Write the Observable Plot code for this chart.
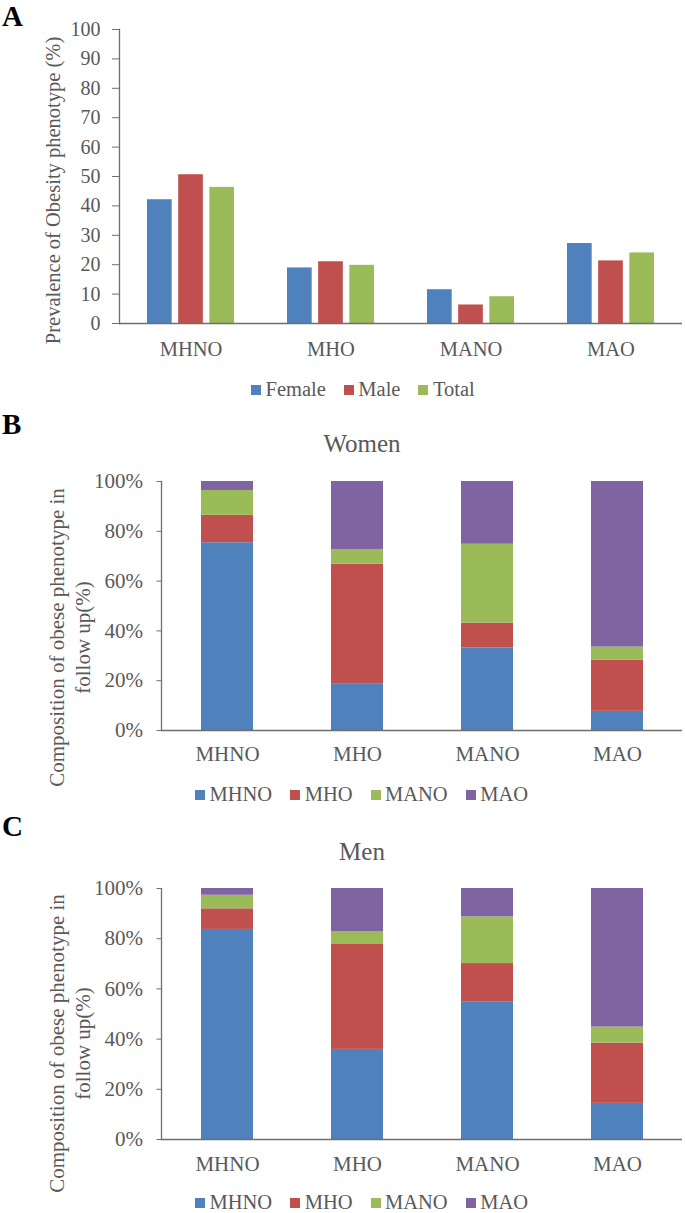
<!DOCTYPE html>
<html>
<head>
<meta charset="utf-8">
<script src="https://cdn.jsdelivr.net/npm/d3@7"></script>
<script src="https://cdn.jsdelivr.net/npm/@observablehq/plot@0.6"></script>
<style>
  html, body { margin: 0; padding: 0; background: #fff; }
  #root { position: relative; width: 685px; height: 1213px; overflow: hidden;
          font-family: "Liberation Serif", "Times New Roman", serif; color: #595959; }
  #root svg text { font-family: "Liberation Serif", "Times New Roman", serif; }
  .abs { position: absolute; }
  .letter { font-weight: bold; color: #000; font-size: 29px; line-height: 32px; }
  .title { font-size: 25px; line-height: 25px; transform: translateX(-50%); white-space: nowrap; }
  .legend { display: flex; align-items: center; gap: 18px; font-size: 20.5px; line-height: 21px; white-space: nowrap; }
  .item { display: flex; align-items: center; gap: 4.5px; }
  .sw { width: 10px; height: 10px; display: inline-block; }
</style>
</head>
<body>
<div id="root"></div>
<script>
// ---------- data ----------
const categories = ["MHNO", "MHO", "MANO", "MAO"];
const sexes = ["Female", "Male", "Total"];
const prevalenceFemale = [42.1, 18.9, 11.5, 27.2];
const prevalenceMale   = [50.6, 21.0, 6.3, 21.3];
const prevalenceTotal  = [46.3, 19.8, 9.1, 24.0];
const ticksA = [0, 10, 20, 30, 40, 50, 60, 70, 80, 90, 100];

const followUp = ["MHNO", "MHO", "MANO", "MAO"];
// composition (%) of follow-up phenotype, per baseline category (MHNO, MHO, MANO, MAO)
const womenToMHNO = [75.4, 18.8, 33.1, 7.7];
const womenToMHO  = [11.0, 48.0, 10.0, 20.6];
const womenToMANO = [10.0, 5.9, 31.7, 5.2];
const womenToMAO  = [3.6, 27.3, 25.2, 66.5];
const menToMHNO = [83.7, 35.9, 54.9, 14.4];
const menToMHO  = [8.2, 41.8, 15.2, 24.0];
const menToMANO = [5.4, 5.0, 18.6, 6.4];
const menToMAO  = [2.7, 17.3, 11.3, 55.2];
const ticksBC = [0, 20, 40, 60, 80, 100];

const sexColors = ["#4F81BD", "#C0504D", "#9BBB59"];
const phenoColors = ["#4F81BD", "#C0504D", "#9BBB59", "#8064A2"];

const yLabelA = "Prevalence of Obesity phenotype (%)";
const yLabelBC = "Composition of obese phenotype in\nfollow up(%)";
const titleB = "Women";
const titleC = "Men";

// ---------- helpers ----------
const W = 685;
const FONT = "'Liberation Serif', 'Times New Roman', serif";
const TEXT = "#595959";
const LINE = "#6e6e6e";
const root = document.getElementById("root");

function place(el, left, top) {
  el.classList.add("abs");
  el.style.left = left + "px";
  el.style.top = top + "px";
  root.appendChild(el);
  return el;
}
function div(cls, text) {
  const d = document.createElement("div");
  d.className = cls;
  if (text != null) d.textContent = text;
  return d;
}
function legend(names, colors, left, top) {
  const lg = div("legend");
  names.forEach((n, i) => {
    const it = div("item");
    const sw = div("sw");
    sw.style.background = colors[i];
    it.appendChild(sw);
    it.appendChild(document.createTextNode(n));
    lg.appendChild(it);
  });
  place(lg, left, top);
}
const svgStyle = size => `font-family: ${FONT}; font-size: ${size}px; color: ${TEXT}; background: transparent; overflow: visible;`;

// ---------- Panel A ----------
{
  const series = [prevalenceFemale, prevalenceMale, prevalenceTotal];
  const rows = categories.flatMap((c, i) => sexes.map((s, j) => ({cat: c, sex: s, value: series[j][i]})));
  const mL = 119, mR = 3;
  const xRange = [mL, W - mR];
  const outer = d3.scaleBand().domain(categories).range(xRange).paddingInner(0.38).paddingOuter(0.19);
  const bw = outer.bandwidth();
  const sub = d3.scaleBand().domain(sexes).range([0, bw]).paddingInner(0.2);
  const bars = sexes.map(s => Plot.barY(rows.filter(r => r.sex === s), {
    x: "cat", y: "value", fill: "sex",
    insetLeft: sub(s), insetRight: bw - sub(s) - sub.bandwidth()
  }));
  const svg = Plot.plot({
    width: W, height: 375, marginTop: 29, marginBottom: 52, marginLeft: mL, marginRight: mR,
    style: svgStyle(20),
    x: {domain: categories, range: xRange, paddingInner: 0.38, paddingOuter: 0.19},
    y: {domain: [0, 100]},
    color: {domain: sexes, range: sexColors},
    marks: [
      ...bars,
      Plot.ruleY([0], {stroke: LINE, strokeWidth: 1.3}),
      Plot.frame({anchor: "left", stroke: LINE, strokeWidth: 1.3}),
      Plot.axisY(ticksA, {tickSize: 7, tickPadding: 12, stroke: LINE, fill: TEXT, label: null,
        fontFamily: FONT, fontSize: 20}),
      Plot.axisX({tickSize: 0, tickPadding: 18, fill: TEXT, label: null, fontFamily: FONT, fontSize: 20.5}),
      Plot.text([yLabelA], {text: d => d, frameAnchor: "left", textAnchor: "middle", lineAnchor: "middle",
        rotate: -90, dx: 53 - mL, dy: 14, fill: TEXT, fontFamily: FONT, fontSize: 20.5})
    ]
  });
  place(svg, 0, 0);
  place(div("letter", "A"), 2, 0);
  legend(sexes, sexColors, 251, 379);
}

// ---------- Panels B and C ----------
function stacked(seriesList, height, marginTop, tickPad, labelDy) {
  const rows = categories.flatMap((c, i) => followUp.map((f, j) => ({cat: c, pheno: f, value: seriesList[j][i]})));
  const mL = 161, mR = 3;
  return Plot.plot({
    width: W, height, marginTop, marginBottom: 40, marginLeft: mL, marginRight: mR,
    style: svgStyle(21),
    x: {domain: categories, paddingInner: 0.6, paddingOuter: 0.3},
    y: {domain: [0, 100]},
    color: {domain: followUp, range: phenoColors},
    marks: [
      Plot.barY(rows, {x: "cat", y: "value", fill: "pheno", order: followUp}),
      Plot.ruleY([0], {stroke: LINE, strokeWidth: 1.3}),
      Plot.frame({anchor: "left", stroke: LINE, strokeWidth: 1.3}),
      Plot.axisY(ticksBC, {tickSize: 4.5, tickPadding: 14, stroke: LINE, fill: TEXT, label: null,
        tickFormat: d => d + "%", fontFamily: FONT, fontSize: 21}),
      Plot.axisX({tickSize: 0, tickPadding: tickPad, fill: TEXT, label: null, fontFamily: FONT, fontSize: 21}),
      Plot.text([yLabelBC], {text: d => d, frameAnchor: "left", textAnchor: "middle", lineAnchor: "middle",
        rotate: -90, dx: 68 - mL, dy: labelDy, lineHeight: 1.25, fill: TEXT, fontFamily: FONT, fontSize: 21})
    ]
  });
}

place(stacked([womenToMHNO, womenToMHO, womenToMANO, womenToMAO], 310, 21, 16, 31.5), 0, 460);
place(div("letter", "B"), 2, 408);
place(div("title", titleB), 362, 431);
legend(followUp, phenoColors, 195, 784);

place(stacked([menToMHNO, menToMHO, menToMANO, menToMAO], 314, 23, 17, 29.5), 0, 865);
place(div("letter", "C"), 2, 810);
place(div("title", titleC), 362, 839);
legend(followUp, phenoColors, 195, 1192);
</script>
</body>
</html>
